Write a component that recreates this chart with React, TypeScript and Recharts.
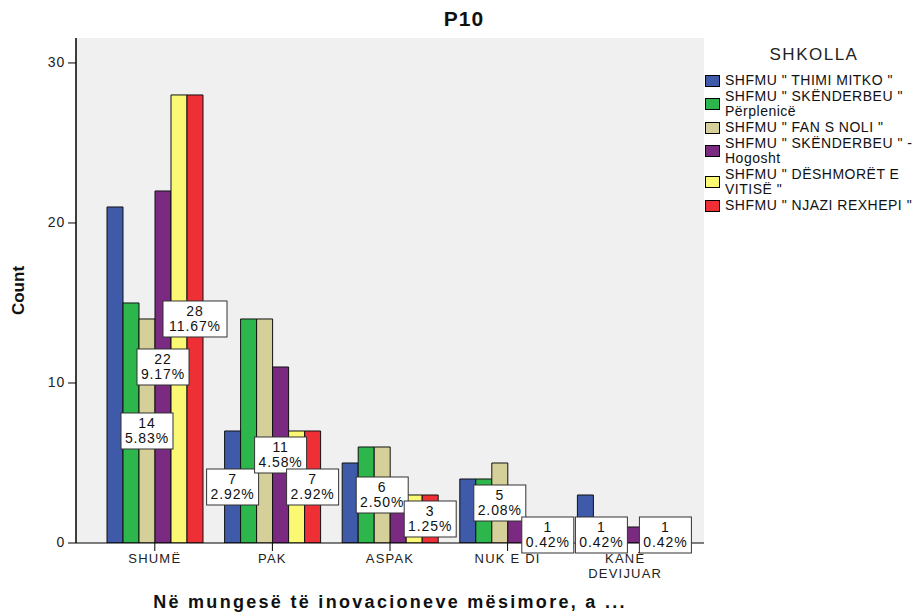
import React from 'react';
import { BarChart, Bar, XAxis, YAxis, CartesianGrid, Legend, LabelList, Text } from 'recharts';

// ---------- DATA ----------
const categories = ['SHUMË', 'PAK', 'ASPAK', 'NUK E DI', 'KANË DEVIJUAR'];

const seriesNames = [
  'SHFMU " THIMI MITKO "',
  'SHFMU " SKËNDERBEU " Përplenicë',
  'SHFMU " FAN S NOLI "',
  'SHFMU " SKËNDERBEU " - Hogosht',
  'SHFMU " DËSHMORËT E VITISË "',
  'SHFMU " NJAZI REXHEPI "',
];

const legendLines = [
  ['SHFMU " THIMI MITKO "'],
  ['SHFMU " SKËNDERBEU "', 'Përplenicë'],
  ['SHFMU " FAN S NOLI "'],
  ['SHFMU " SKËNDERBEU " -', 'Hogosht'],
  ['SHFMU " DËSHMORËT E', 'VITISË "'],
  ['SHFMU " NJAZI REXHEPI "'],
];

const thimiMitko = [21, 7, 5, 4, 3];
const skenderbeuPerplenice = [15, 14, 6, 4, 1];
const fanSNoli = [14, 14, 6, 5, 1];
const skenderbeuHogosht = [22, 11, 4, 2, 1];
const deshmoretVitise = [28, 7, 3, 1, 1];
const njaziRexhepi = [28, 7, 3, 1, 1];

const seriesValues = [thimiMitko, skenderbeuPerplenice, fanSNoli, skenderbeuHogosht, deshmoretVitise, njaziRexhepi];

// [seriesIndex, categoryIndex] of the bars that carry a visible label
const labeledBars: [number, number][] = [
  [2, 0], [3, 0], [5, 0],
  [0, 1], [3, 1], [5, 1],
  [2, 2], [5, 2],
  [2, 3], [5, 3],
  [1, 4], [5, 4],
];

const yTicks = [0, 10, 20, 30];
const title = 'P10';
const xAxisTitle = 'Në mungesë të inovacioneve mësimore, a ...';
const yAxisTitle = 'Count';
const legendTitle = 'SHKOLLA';

// ---------- STYLE ----------
const colors = ['#3e5aa9', '#2db64b', '#d5cf99', '#7a2a80', '#fbf974', '#ee3036'];
const FONT = '"Liberation Sans", Arial, sans-serif';

const total = seriesValues.reduce((a, s) => a + s.reduce((b, v) => b + v, 0), 0);

const data = categories.map((c, i) => {
  const row: any = { cat: c };
  seriesValues.forEach((s, k) => {
    row['s' + k] = s[i];
  });
  return row;
});

const isLabeled = (s: number, c: number) => labeledBars.some(([a, b]) => a === s && b === c);

function makeLabel(s: number) {
  return (p: any) => {
    const idx = p.index;
    if (idx === undefined || !isLabeled(s, idx)) return null;
    const vb = p.viewBox || {};
    const x = p.x ?? vb.x;
    const y = p.y ?? vb.y;
    const w = p.width ?? vb.width;
    const h = p.height ?? vb.height;
    const v = Number(p.value);
    const cx = x + w / 2;
    const cy = y + h / 2;
    const l1 = String(v);
    const l2 = ((v / total) * 100).toFixed(2) + '%';
    const bw = Math.max(l1.length, l2.length) * 12 - 8;
    const bh = 36;
    return (
      <g>
        <rect x={cx - bw / 2} y={cy - bh / 2} width={bw} height={bh} fill="#fff" stroke="#333" strokeWidth={1} />
        <text x={cx} y={cy - 7} textAnchor="middle" dominantBaseline="middle" fontSize={14} fill="#111" style={{ letterSpacing: 0.9, fontFamily: FONT }}>
          {l1}
        </text>
        <text x={cx} y={cy + 8} textAnchor="middle" dominantBaseline="middle" fontSize={14} fill="#111" style={{ letterSpacing: 0.9, fontFamily: FONT }}>
          {l2}
        </text>
      </g>
    );
  };
}

function XTick(props: any) {
  const { x, y, payload } = props;
  return (
    <Text
      x={x}
      y={y}
      width={80}
      textAnchor="middle"
      verticalAnchor="start"
      fontSize={13}
      fill="#222"
      lineHeight="1.1em"
      style={{ letterSpacing: 1.2, fontFamily: FONT }}
    >
      {payload.value}
    </Text>
  );
}

function YTick(props: any) {
  const { x, y, payload } = props;
  return (
    <text x={x} y={y} textAnchor="end" dominantBaseline="middle" fontSize={14} fill="#222" style={{ letterSpacing: 0.8, fontFamily: FONT }}>
      {payload.value}
    </text>
  );
}

function XTitle(props: any) {
  const vb = props.viewBox || {};
  return (
    <text
      x={vb.x + vb.width / 2}
      y={603}
      textAnchor="middle"
      dominantBaseline="middle"
      fontSize={18}
      fontWeight="bold"
      fill="#111"
      style={{ letterSpacing: 2.3, fontFamily: FONT }}
    >
      {xAxisTitle}
    </text>
  );
}

function YTitle(props: any) {
  const vb = props.viewBox || {};
  const cx = 20;
  const cy = vb.y + vb.height / 2;
  return (
    <text
      x={cx}
      y={cy}
      transform={`rotate(-90, ${cx}, ${cy})`}
      textAnchor="middle"
      dominantBaseline="middle"
      fontSize={17}
      fontWeight="bold"
      fill="#111"
      style={{ fontFamily: FONT }}
    >
      {yAxisTitle}
    </text>
  );
}

function LegendContent() {
  return (
    <div style={{ width: 212, fontFamily: FONT, color: '#111' }}>
      <div style={{ textAlign: 'center', fontSize: 17, height: 22, lineHeight: '22px', letterSpacing: 1.5, color: '#222', paddingLeft: 8 }}>
        {legendTitle}
      </div>
      <div style={{ marginTop: 7 }}>
        {legendLines.map((lines, i) => (
          <div key={i} style={{ display: 'flex', alignItems: 'center', marginBottom: 1 }}>
            <div
              style={{
                width: 15,
                height: 12,
                boxSizing: 'border-box',
                border: '1px solid #000',
                background: colors[i],
                flex: 'none',
                marginLeft: 1,
              }}
            />
            <div style={{ marginLeft: 5, fontSize: 14, lineHeight: '15px', letterSpacing: 0.5, whiteSpace: 'nowrap' }}>
              {lines.map((l, j) => (
                <div key={j}>{l}</div>
              ))}
            </div>
          </div>
        ))}
      </div>
    </div>
  );
}

const MARGIN = { top: 38, right: 212, bottom: 40, left: 0 };

function ChartLayer({ labelsOnly }: { labelsOnly: boolean }) {
  return (
    <BarChart width={916} height={613} data={data} margin={MARGIN} barGap={0} barSize={16}>
      {!labelsOnly && <CartesianGrid fill="#f0f0f0" horizontal={false} vertical={false} />}
      <XAxis
        dataKey="cat"
        padding={{ left: 20, right: 20 }}
        height={30}
        interval={0}
        tickSize={8}
        tickMargin={3}
        axisLine={labelsOnly ? false : { stroke: '#000', strokeWidth: 1.2 }}
        tickLine={labelsOnly ? false : { stroke: '#000' }}
        tick={labelsOnly ? false : <XTick />}
        label={labelsOnly ? undefined : <XTitle />}
      />
      <YAxis
        width={76}
        domain={[0, 31.56]}
        ticks={yTicks}
        allowDataOverflow
        tickSize={8}
        tickMargin={3}
        axisLine={labelsOnly ? false : { stroke: '#000', strokeWidth: 1.5 }}
        tickLine={labelsOnly ? false : { stroke: '#000' }}
        tick={labelsOnly ? false : <YTick />}
        label={labelsOnly ? undefined : <YTitle />}
      />
      {!labelsOnly && (
        <XAxis xAxisId="top" orientation="top" height={0} tick={false} tickLine={false} axisLine={{ stroke: '#777', strokeWidth: 2 }} />
      )}
      {!labelsOnly && (
        <YAxis yAxisId="right" orientation="right" width={0} tick={false} tickLine={false} axisLine={{ stroke: '#777', strokeWidth: 2 }} />
      )}
      {!labelsOnly && (
        <Legend
          content={<LegendContent />}
          wrapperStyle={{ position: 'absolute', left: 704, top: 44, width: 0, height: 0, overflow: 'visible' }}
        />
      )}
      {seriesNames.map((name, k) => (
        <Bar
          key={k}
          dataKey={'s' + k}
          name={name}
          fill={labelsOnly ? 'none' : colors[k]}
          stroke={labelsOnly ? 'none' : '#111'}
          strokeWidth={1}
          isAnimationActive={false}
        >
          {labelsOnly && <LabelList dataKey={'s' + k} content={makeLabel(k)} />}
        </Bar>
      ))}
    </BarChart>
  );
}

export default function App() {
  return (
    <div style={{ position: 'absolute', left: 0, top: 0, width: 916, height: 613, background: '#fff', fontFamily: FONT }}>
      <div style={{ position: 'absolute', left: 0, top: 0 }}>
        <ChartLayer labelsOnly={false} />
      </div>
      <div style={{ position: 'absolute', left: 0, top: 0, pointerEvents: 'none' }}>
        <ChartLayer labelsOnly={true} />
      </div>
      <div
        style={{
          position: 'absolute',
          left: 414,
          width: 100,
          top: 7,
          textAlign: 'center',
          fontSize: 21,
          fontWeight: 'bold',
          letterSpacing: 1,
          color: '#111',
        }}
      >
        {title}
      </div>
    </div>
  );
}
